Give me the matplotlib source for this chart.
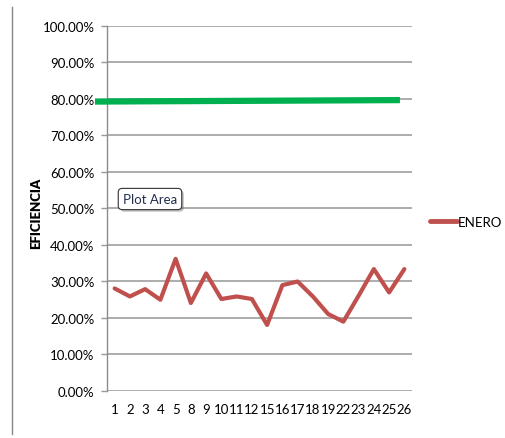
import matplotlib
matplotlib.use("Agg")
import matplotlib.pyplot as plt
from matplotlib.lines import Line2D
import matplotlib.patheffects as pe

plt.rcParams['font.family'] = ['Lato', 'DejaVu Sans']

# Daily efficiency for January (working days only)
dias = ['1', '2', '3', '4', '5', '8', '9', '10', '11', '12',
        '15', '16', '17', '18', '19', '22', '23', '24', '25', '26']
enero = [28.1, 25.9, 27.9, 25.0, 36.2, 24.1, 32.2, 25.2, 25.9, 25.2,
         18.1, 29.0, 30.0, 25.9, 21.1, 19.0, 26.1, 33.4, 27.0, 33.4]
# Target efficiency line
meta = [79.3, 79.7]

y_ticks = list(range(0, 101, 10))
y_labels = [f"{v:.2f}%" for v in y_ticks]

fig = plt.figure(figsize=(5.05, 4.39), dpi=100)
ax = fig.add_axes([0.2119, 0.1071, 0.6039, 0.8314])

x = list(range(len(dias)))
ax.plot(x, enero, color='#c0504d', lw=3, solid_capstyle='round',
        solid_joinstyle='round', label='ENERO', zorder=3)

# Target line drawn across the plot area
ax.plot([-1.29, 18.71], meta, color='#00b050', lw=4.5, clip_on=False,
        solid_capstyle='butt', zorder=4)

ax.set_xlim(-0.5, len(dias) - 0.5)
ax.set_ylim(0, 100)
ax.set_yticks(y_ticks)
ax.set_yticklabels(y_labels, fontsize=9.5)
ax.set_xticks(x)
ax.set_xticklabels(dias, fontsize=9.5)
ax.tick_params(axis='x', length=0, pad=9)
ax.tick_params(axis='y', length=4, width=1, color='#999999', pad=5)

ax.grid(axis='y', color='#a6a6a6', lw=1.3)
ax.set_axisbelow(True)
for s in ['top', 'right', 'bottom']:
    ax.spines[s].set_visible(False)
ax.spines['left'].set_color('#8c8c8c')
ax.spines['left'].set_linewidth(1)

ax.set_ylabel('EFICIENCIA', fontsize=9.5, fontweight='heavy')
ax.yaxis.set_label_coords(-0.212, 0.49)

ax.text(0.052, 0.526, 'Plot Area', transform=ax.transAxes, fontsize=9.5,
        ha='left', va='center', color='#1f3050',
        bbox=dict(boxstyle='round,pad=0.35,rounding_size=0.3', fc='white',
                  ec='#333333', lw=0.8,
                  path_effects=[pe.SimplePatchShadow(offset=(1.5, -1.5), alpha=0.35),
                                pe.Normal()]))

leg = fig.legend(loc='center left', bbox_to_anchor=(0.852, 0.492),
                 frameon=False, fontsize=9.5, handlelength=2.0,
                 handletextpad=0.1, borderaxespad=0, borderpad=0)
for h in leg.get_lines():
    h.set_linewidth(3.5)

fig.add_artist(Line2D([12 / 505, 12 / 505], [4 / 439, 431 / 439],
                      transform=fig.transFigure, color='#888888', lw=1))

fig.savefig('out.png', dpi=100)
